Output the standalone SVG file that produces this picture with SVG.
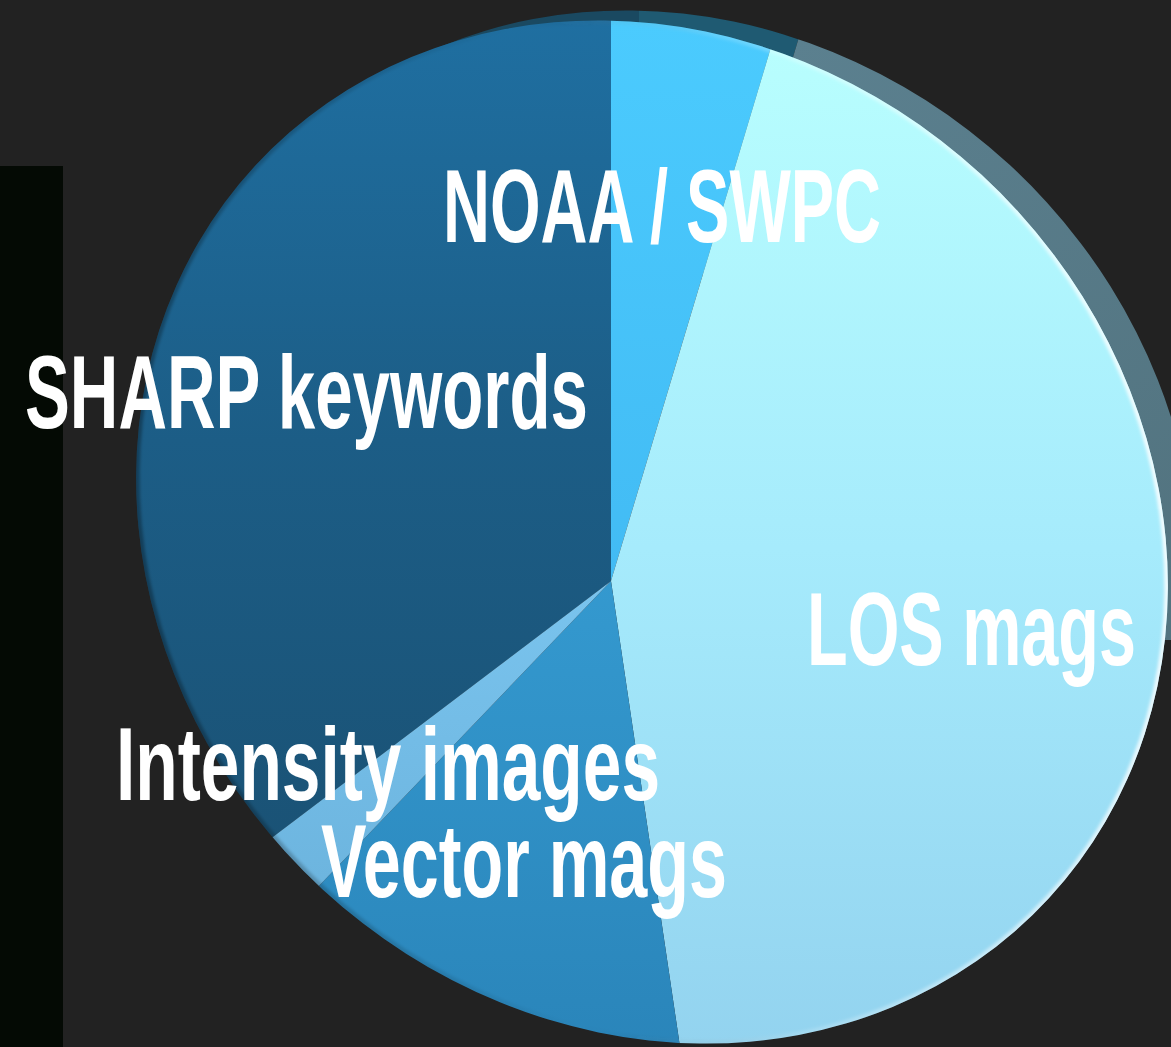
<svg xmlns="http://www.w3.org/2000/svg" width="1171" height="1047" viewBox="0 0 1171 1047">
<defs>
<style>
.lbl{font-family:"Liberation Sans",Arial,sans-serif;font-weight:700;font-size:104px;fill:#ffffff}
</style>
<clipPath id="faceClip"><ellipse cx="652" cy="532" rx="540" ry="486" transform="rotate(42.7 652 532)"/></clipPath>
<clipPath id="rimCut"><polygon points="300,-50 1300,-50 1300,640 1160,640"/></clipPath>
<linearGradient id="gSharp" gradientUnits="userSpaceOnUse" x1="0" y1="20" x2="0" y2="860">
<stop offset="0" stop-color="#1f6fa1"/><stop offset="0.5" stop-color="#1c5d86"/><stop offset="1" stop-color="#1a5275"/>
</linearGradient>
<linearGradient id="gNoaa" gradientUnits="userSpaceOnUse" x1="0" y1="20" x2="0" y2="580">
<stop offset="0" stop-color="#4bcbfe"/><stop offset="1" stop-color="#42bbf4"/>
</linearGradient>
<linearGradient id="gLos" gradientUnits="userSpaceOnUse" x1="0" y1="50" x2="0" y2="1047">
<stop offset="0" stop-color="#b8fefe"/><stop offset="0.5" stop-color="#a6ebfc"/><stop offset="1" stop-color="#93d3ef"/>
</linearGradient>
<linearGradient id="gVec" gradientUnits="userSpaceOnUse" x1="0" y1="580" x2="0" y2="1047">
<stop offset="0" stop-color="#3499cf"/><stop offset="1" stop-color="#2a85ba"/>
</linearGradient>
<linearGradient id="gInt" gradientUnits="userSpaceOnUse" x1="0" y1="580" x2="0" y2="900">
<stop offset="0" stop-color="#7ac4ee"/><stop offset="1" stop-color="#6cb4de"/>
</linearGradient>
<linearGradient id="gRimLos" gradientUnits="userSpaceOnUse" x1="800" y1="30" x2="1171" y2="600">
<stop offset="0" stop-color="#5b808f"/><stop offset="1" stop-color="#52737f"/>
</linearGradient>
<linearGradient id="gEdge" gradientUnits="userSpaceOnUse" x1="1050" y1="150" x2="300" y2="950">
<stop offset="0" stop-color="#ffffff" stop-opacity="0.9"/>
<stop offset="0.4" stop-color="#ffffff" stop-opacity="0.15"/>
<stop offset="0.6" stop-color="#000000" stop-opacity="0"/>
<stop offset="1" stop-color="#000000" stop-opacity="0.35"/>
</linearGradient>
<filter id="soft" x="-5%" y="-5%" width="110%" height="110%"><feGaussianBlur stdDeviation="1.6"/></filter>
</defs>
<rect x="0" y="0" width="1171" height="1047" fill="#222222"/>
<rect id="side-bar" x="0" y="166" width="63" height="881" fill="#040a04"/>

<g id="rim" clip-path="url(#rimCut)">
<g transform="translate(28,-10)" clip-path="url(#faceClip)">
<polygon points="611,581 -600,1498 -600,-500 611,-500" fill="#1a4961"/>
<polygon points="611,581 611,-500 935,-500" fill="#1f5a72"/>
<polygon points="611,581 935,-500 1600,-500 1600,1600 762,1600" fill="url(#gRimLos)"/>
</g>
</g>

<g id="pie" clip-path="url(#faceClip)">
<g id="slice-sharp"><polygon points="611,581 -600,1498 -600,-500 611,-500" fill="url(#gSharp)"/></g>
<g id="slice-noaa"><polygon points="611,581 611,-500 935,-500" fill="url(#gNoaa)"/></g>
<g id="slice-los"><polygon points="611,581 935,-500 1600,-500 1600,1600 762,1600" fill="url(#gLos)"/></g>
<g id="slice-vector"><polygon points="611,581 762,1600 -365,1600" fill="url(#gVec)"/></g>
<g id="slice-intensity"><polygon points="611,581 -365,1600 -600,1600 -600,1498" fill="url(#gInt)"/></g>
<ellipse cx="652" cy="532" rx="540" ry="486" transform="rotate(42.7 652 532)" fill="none" stroke="url(#gEdge)" stroke-width="7" filter="url(#soft)"/>
</g>

<g id="labels">
<text id="t-noaa" class="lbl" x="443" y="242" textLength="438" lengthAdjust="spacingAndGlyphs">NOAA / SWPC</text>
<text id="t-sharp" class="lbl" x="25" y="428" textLength="563" lengthAdjust="spacingAndGlyphs">SHARP keywords</text>
<text id="t-los" class="lbl" x="807" y="665" textLength="329" lengthAdjust="spacingAndGlyphs">LOS mags</text>
<text id="t-int" class="lbl" x="116" y="800" textLength="544" lengthAdjust="spacingAndGlyphs">Intensity images</text>
<text id="t-vec" class="lbl" x="321" y="897" textLength="406" lengthAdjust="spacingAndGlyphs">Vector mags</text>
</g>
</svg>
